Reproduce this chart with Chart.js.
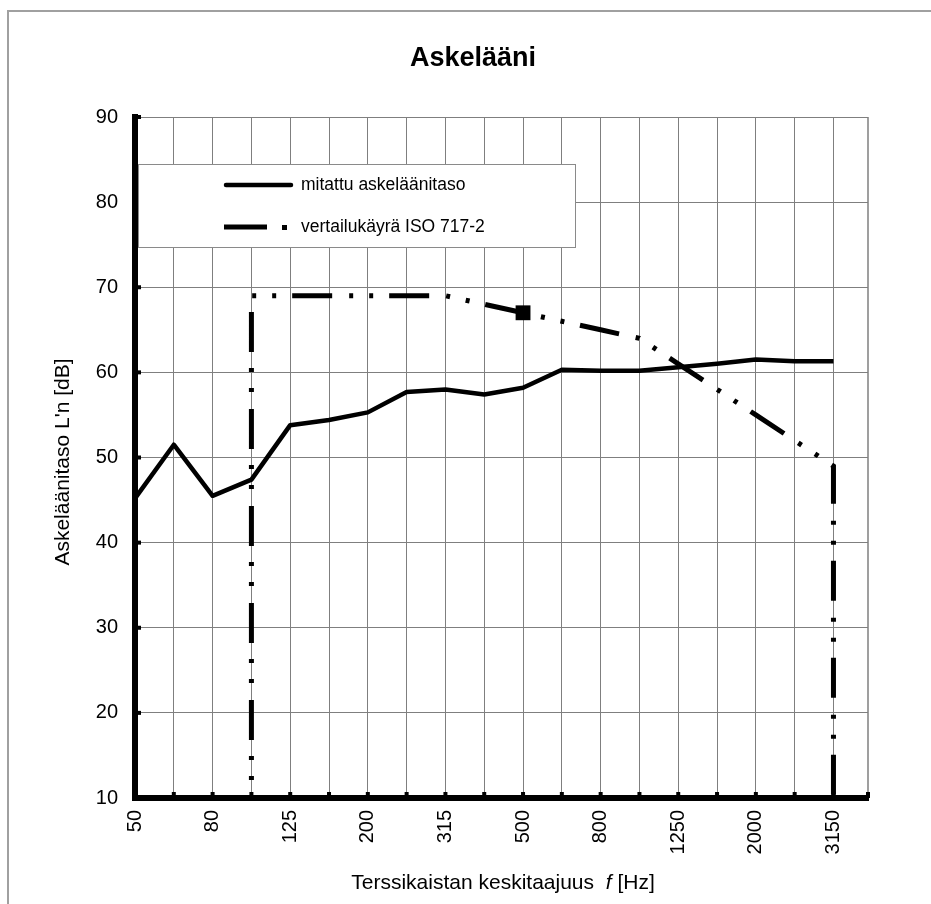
<!DOCTYPE html>
<html>
<head>
<meta charset="utf-8">
<script src="https://cdn.jsdelivr.net/npm/chart.js@4/dist/chart.umd.min.js"></script>
<style>
  html, body { margin: 0; padding: 0; background: #fff; }
  #wrap { position: relative; width: 931px; height: 904px; }
</style>
</head>
<body>
<div id="wrap"><canvas id="c" width="931" height="904"></canvas></div>
<script>
// ---- data ----
const chartTitle = 'Askelääni';
const yAxisTitle = "Askeläänitaso L'n [dB]";
const xAxisTitleParts = ['Terssikaistan keskitaajuus  ', 'f', ' [Hz]'];
const freqLabels = ['50','63','80','100','125','160','200','250','315','400','500','630','800','1000','1250','1600','2000','2500','3150'];
const labelEvery = 2;
const measuredLabel = 'mitattu askeläänitaso';
const measured = [45.2, 51.5, 45.5, 47.4, 53.8, 54.4, 55.3, 57.7, 58.0, 57.4, 58.2, 60.3, 60.2, 60.2, 60.6, 61.0, 61.5, 61.3, 61.3];
const referenceLabel = 'vertailukäyrä ISO 717-2';
const referenceFreqs = ['100','125','160','200','250','315','400','500','630','800','1000','1250','1600','2000','2500','3150'];
const referenceValues = [69, 69, 69, 69, 69, 69, 68, 67, 66, 65, 64, 61, 58, 55, 52, 49];
const referenceMarkedFreq = '500';
const yTicks = [10, 20, 30, 40, 50, 60, 70, 80, 90];

// ---- build library data ----
const measuredData = measured.map((v, i) => ({ x: i, y: v }));
const yMin = yTicks[0], yMax = yTicks[yTicks.length - 1];
const refData = [];
refData.push({ x: freqLabels.indexOf(referenceFreqs[0]), y: yMin });
referenceFreqs.forEach((f, i) => refData.push({ x: freqLabels.indexOf(f), y: referenceValues[i] }));
refData.push({ x: freqLabels.indexOf(referenceFreqs[referenceFreqs.length - 1]), y: yMin });
const refRadius = refData.map((p, i) => (i > 0 && i < refData.length - 1 && freqLabels[p.x] === referenceMarkedFreq) ? 10.5 : 0);

const FONT = "'Liberation Sans', Arial, sans-serif";

const decor = {
  id: 'decor',
  beforeDraw(chart) {
    const ctx = chart.ctx;
    ctx.save();
    ctx.fillStyle = '#fff';
    ctx.fillRect(0, 0, chart.width, chart.height);
    ctx.strokeStyle = '#a0a0a0';
    ctx.lineWidth = 2;
    ctx.beginPath();
    ctx.moveTo(8, chart.height);
    ctx.lineTo(8, 11);
    ctx.lineTo(chart.width, 11);
    ctx.stroke();
    ctx.restore();
  },
  afterDatasetsDraw(chart) {
    const ctx = chart.ctx;
    const a = chart.chartArea;
    const xs = chart.scales.x, ys = chart.scales.y;
    ctx.save();
    // right border
    ctx.strokeStyle = '#7f7f7f';
    ctx.lineWidth = 1.5;
    ctx.beginPath();
    ctx.moveTo(a.right, a.top);
    ctx.lineTo(a.right, a.bottom);
    ctx.stroke();
    // small tick marks on axes
    ctx.fillStyle = '#000';
    ys.ticks.forEach(t => {
      const y = ys.getPixelForValue(t.value);
      ctx.fillRect(a.left, y - 2, 6, 4);
    });
    xs.ticks.forEach(t => {
      const x = xs.getPixelForValue(t.value);
      ctx.fillRect(x - 2, a.bottom - 6, 4, 6);
    });
    ctx.fillRect(a.right - 2, a.bottom - 6, 4, 6);

    // legend box
    const lx = 138, ly = 164, lw = 437, lh = 83;
    ctx.fillStyle = '#fff';
    ctx.fillRect(lx, ly, lw, lh);
    ctx.strokeStyle = '#8a8a8a';
    ctx.lineWidth = 1;
    ctx.strokeRect(lx + 0.5, ly + 0.5, lw, lh);
    // solid sample
    ctx.strokeStyle = '#000';
    ctx.lineWidth = 4.5;
    ctx.lineCap = 'round';
    ctx.beginPath();
    ctx.moveTo(226, 185);
    ctx.lineTo(291, 185);
    ctx.stroke();
    // dash-dot sample
    ctx.lineCap = 'butt';
    ctx.lineWidth = 5;
    ctx.beginPath();
    ctx.moveTo(224, 227);
    ctx.lineTo(267, 227);
    ctx.stroke();
    ctx.fillStyle = '#000';
    ctx.fillRect(282, 225, 5, 5);
    ctx.font = '17.5px ' + FONT;
    ctx.textBaseline = 'middle';
    ctx.textAlign = 'left';
    ctx.fillText(chart.data.datasets[0].label, 301, 185);
    ctx.fillText(chart.data.datasets[1].label, 301, 227);
    ctx.restore();
  },
  afterDraw(chart) {
    const ctx = chart.ctx;
    ctx.save();
    ctx.fillStyle = '#000';
    ctx.textBaseline = 'middle';
    ctx.textAlign = 'center';
    ctx.font = 'bold 27px ' + FONT;
    ctx.fillText(chartTitle, 473, 59);
    // y title
    ctx.font = '21px ' + FONT;
    ctx.save();
    ctx.translate(63, 462);
    ctx.rotate(-Math.PI / 2);
    ctx.fillText(yAxisTitle, 0, 0);
    ctx.restore();
    // x title with italic f
    const fontsX = ['21px ' + FONT, 'italic 21px ' + FONT, '21px ' + FONT];
    let total = 0;
    const widths = xAxisTitleParts.map((p, i) => { ctx.font = fontsX[i]; const w = ctx.measureText(p).width; total += w; return w; });
    let x = 503 - total / 2;
    ctx.textAlign = 'left';
    xAxisTitleParts.forEach((p, i) => { ctx.font = fontsX[i]; ctx.fillText(p, x, 883); x += widths[i]; });
    ctx.restore();
  }
};

new Chart(document.getElementById('c'), {
  type: 'line',
  data: {
    datasets: [
      {
        label: measuredLabel,
        data: measuredData,
        borderColor: '#000',
        backgroundColor: '#000',
        borderWidth: 4.5,
        pointRadius: 0,
        tension: 0,
        borderJoinStyle: 'round',
        order: 2
      },
      {
        label: referenceLabel,
        data: refData,
        borderColor: '#000',
        backgroundColor: '#000',
        borderWidth: 5,
        borderDash: [40, 17, 4, 16, 4, 16],
        borderDashOffset: 39,
        borderCapStyle: 'butt',
        pointStyle: 'rect',
        pointRadius: refRadius,
        pointBorderWidth: 0,
        tension: 0,
        order: 1
      }
    ]
  },
  options: {
    responsive: false,
    animation: false,
    devicePixelRatio: 1,
    layout: { padding: { left: 0, top: 117, right: 63, bottom: 0 } },
    plugins: { legend: { display: false }, title: { display: false }, tooltip: { enabled: false } },
    scales: {
      x: {
        type: 'linear',
        min: 0,
        max: 18.89,
        afterFit(s) { s.height = 106; },
        grid: { color: '#7f7f7f', lineWidth: 1, drawTicks: false },
        border: { color: '#000', width: 6 },
        ticks: {
          stepSize: 1,
          includeBounds: false,
          autoSkip: false,
          minRotation: 90,
          maxRotation: 90,
          padding: 12,
          color: '#000',
          font: { family: FONT, size: 20 },
          callback: (v) => (Number.isInteger(v) && v % labelEvery === 0) ? freqLabels[v] : ''
        }
      },
      y: {
        min: yMin,
        max: yMax,
        afterFit(s) { s.width = 135; },
        grid: { color: '#7f7f7f', lineWidth: 1, drawTicks: false },
        border: { color: '#000', width: 6 },
        ticks: {
          stepSize: 10,
          padding: 17,
          color: '#000',
          font: { family: FONT, size: 20 },
          callback: (v) => yTicks.includes(v) ? String(v) : ''
        }
      }
    }
  },
  plugins: [decor]
});
</script>
</body>
</html>
